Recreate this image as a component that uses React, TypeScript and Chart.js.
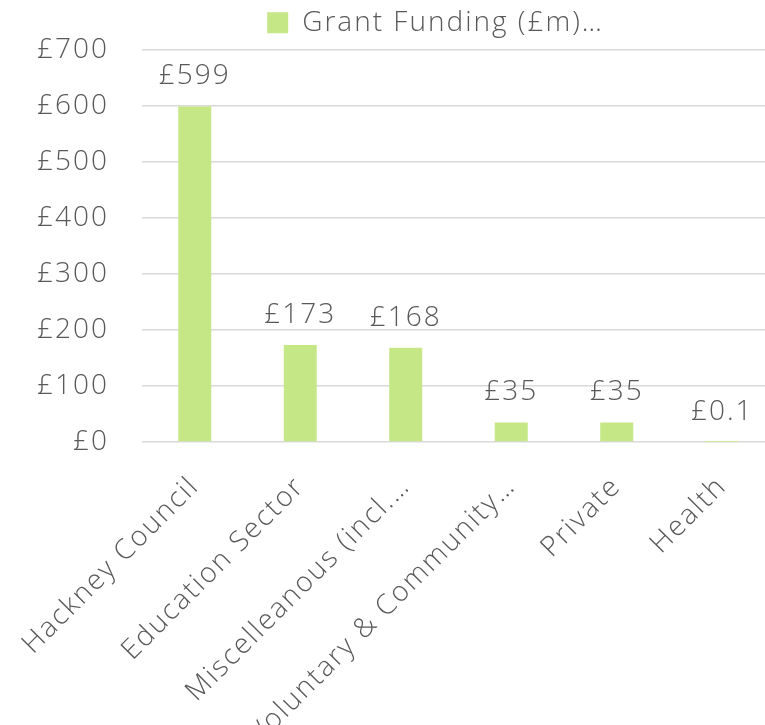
import React, { useEffect, useRef } from 'react';
import { Chart, registerables } from 'chart.js';

Chart.register(...registerables);

const categories = [
  'Hackney Council',
  'Education Sector',
  'Miscelleanous (incl.…',
  'Voluntary & Community…',
  'Private',
  'Health',
];
const values = [599, 173, 168, 35, 35, 0.1];
const valueLabels = ['£599', '£173', '£168', '£35', '£35', '£0.1'];
const yMin = 0;
const yMax = 700;
const yStep = 100;
const seriesName = 'Grant Funding (£m)…';

const FONT = '"Open Sans", "Lato", sans-serif';
const TEXT = '#595959';
const BAR = '#c5e786';
const GRID = '#d9d9d9';
const CANVAS_W = 775;
const CANVAS_H = 725;
const LEGEND_SHIFT_X = 48;
const LEGEND_SHIFT_Y = -3;
const LETTER_SPACING = '2px';

const spacingPlugin = {
  id: 'spacing',
  beforeInit(chart: any) {
    chart.ctx.letterSpacing = LETTER_SPACING;
  },
  beforeUpdate(chart: any) {
    chart.ctx.letterSpacing = LETTER_SPACING;
  },
  beforeDraw(chart: any) {
    chart.ctx.letterSpacing = LETTER_SPACING;
  },
};

const dataLabelPlugin = {
  id: 'dataLabels',
  afterDatasetsDraw(chart: any) {
    const ctx = chart.ctx;
    const meta = chart.getDatasetMeta(0);
    ctx.save();
    ctx.letterSpacing = LETTER_SPACING;
    ctx.font = `300 28px ${FONT}`;
    ctx.fillStyle = TEXT;
    ctx.textAlign = 'center';
    ctx.textBaseline = 'alphabetic';
    meta.data.forEach((bar: any, i: number) => {
      ctx.fillText(valueLabels[i], bar.x, bar.y - 22);
    });
    ctx.restore();
  },
};

const legendShiftPlugin = {
  id: 'legendShift',
  afterLayout(chart: any) {
    const l = chart.legend;
    if (l) {
      l.left += LEGEND_SHIFT_X;
      l.right += LEGEND_SHIFT_X;
      l.top += LEGEND_SHIFT_Y;
      l.bottom += LEGEND_SHIFT_Y;
    }
  },
};

export default function App() {
  const ref = useRef<HTMLCanvasElement | null>(null);

  useEffect(() => {
    if (!ref.current) return;
    const chart = new Chart(ref.current, {
      type: 'bar',
      data: {
        labels: categories,
        datasets: [
          {
            label: seriesName,
            data: values,
            backgroundColor: BAR,
            borderWidth: 0,
            barPercentage: 0.313,
            categoryPercentage: 1,
          },
        ],
      },
      options: {
        responsive: false,
        animation: false,
        layout: { padding: { top: 0, left: 0, right: 0, bottom: 0 } },
        plugins: {
          legend: {
            display: true,
            position: 'top',
            labels: {
              boxWidth: 21,
              boxHeight: 21,
              padding: 9,
              color: TEXT,
              font: { family: FONT, size: 28, weight: '300' as any },
            },
          },
          tooltip: { enabled: false },
        },
        scales: {
          x: {
            grid: { display: false, drawTicks: false },
            border: { display: false },
            ticks: {
              minRotation: 45,
              maxRotation: 45,
              autoSkip: false,
              padding: 28,
              color: TEXT,
              font: { family: FONT, size: 28, weight: '300' as any },
            },
            afterFit: (scale: any) => {
              scale.height = 283;
              scale.paddingLeft = 0;
              scale.paddingRight = 0;
            },
          },
          y: {
            min: yMin,
            max: yMax,
            grid: { color: GRID, lineWidth: 1.5, drawTicks: false },
            border: { display: false },
            ticks: {
              stepSize: yStep,
              padding: 33,
              color: TEXT,
              font: { family: FONT, size: 28, weight: '300' as any },
              callback: (v: any) => '£' + v,
            },
            afterFit: (scale: any) => {
              scale.width = 142;
            },
          },
        },
      },
      plugins: [spacingPlugin, dataLabelPlugin, legendShiftPlugin],
    });
    return () => chart.destroy();
  }, []);

  return (
    <div style={{ position: 'fixed', left: 0, top: 0, width: CANVAS_W, height: CANVAS_H, background: '#fff' }}>
      <canvas ref={ref} width={CANVAS_W} height={CANVAS_H} />
    </div>
  );
}
